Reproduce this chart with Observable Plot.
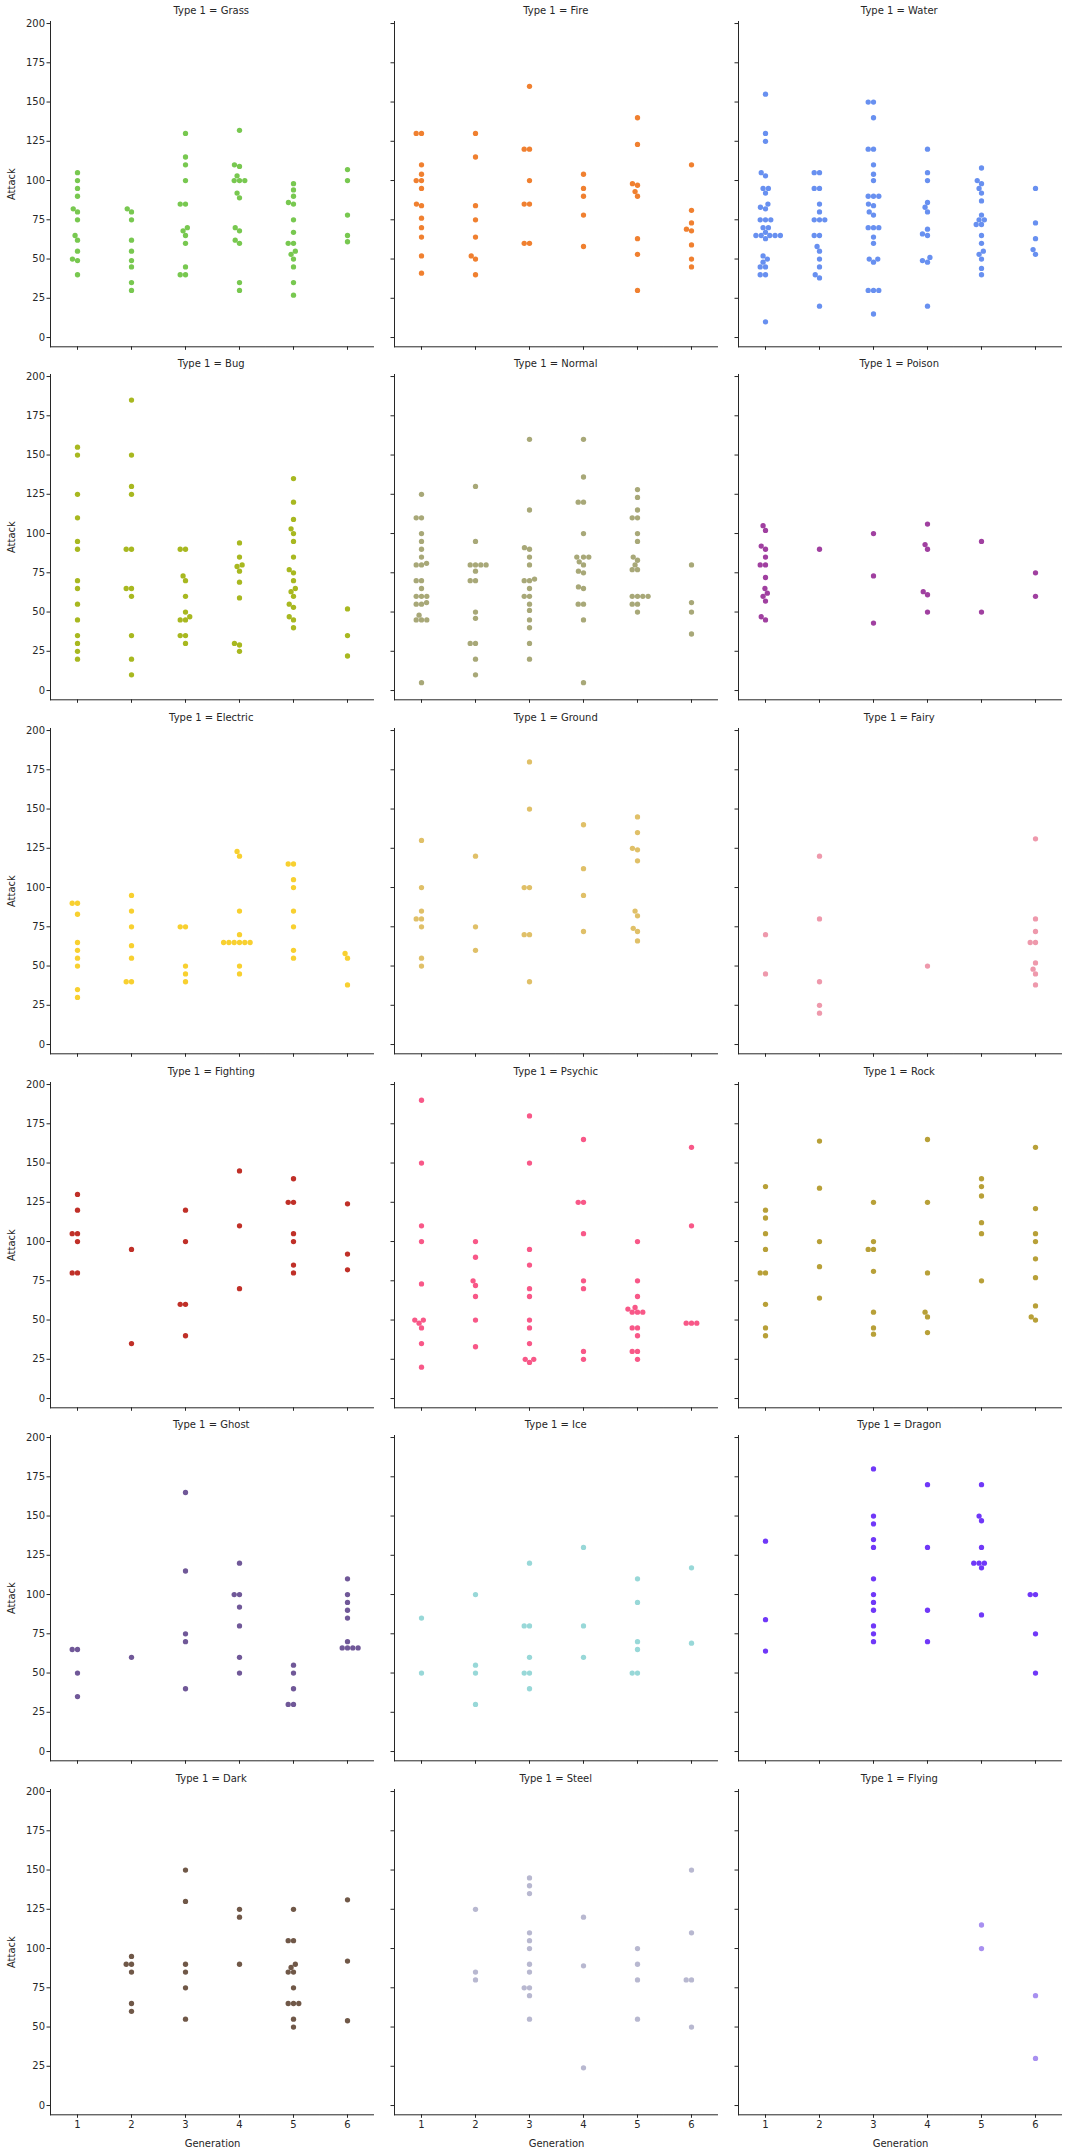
<!DOCTYPE html>
<html><head><meta charset="utf-8">
<script src="https://cdn.jsdelivr.net/npm/d3@7"></script>
<script src="https://cdn.jsdelivr.net/npm/@observablehq/plot@0.6"></script>
<style>
body{margin:0;background:#fff;}
#chart{position:relative;width:1072px;height:2152px;font-family:"DejaVu Sans",sans-serif;color:#262626;overflow:hidden;}
.panel{position:absolute;}
.title{position:absolute;font-size:10px;text-align:center;white-space:nowrap;line-height:10px;color:#262626;}
</style></head><body><div id="chart"></div>
<script>
const generations = [1, 2, 3, 4, 5, 6];
const types = ["Grass","Fire","Water","Bug","Normal","Poison","Electric","Ground","Fairy","Fighting","Psychic","Rock","Ghost","Ice","Dragon","Dark","Steel","Flying"];
const typeColors = ["#78C850","#F08030","#6890F0","#A8B820","#A8A878","#A040A0","#F8D030","#E0C068","#EE99AC","#C03028","#F85888","#B8A038","#705898","#98D8D8","#7038F8","#705848","#B8B8D0","#A890F0"];
const yTicks = [0, 25, 50, 75, 100, 125, 150, 175, 200];
const yDomain = [-5.9, 201.3];

// Attack values, one list per generation 1..6
const grass = [[105,100,95,90,82,80,75,65,62,55,50,49,40],[82,80,75,62,55,49,45,35,30],[130,115,110,100,85,85,70,68,65,60,45,40,40],[132,110,109,103,100,100,100,92,89,70,68,62,60,35,30],[98,94,90,86,85,75,67,60,60,55,53,50,45,35,27],[107,100,78,65,61]];
const fire = [[130,130,110,104,100,100,95,85,84,76,70,64,52,41],[130,115,84,75,64,52,50,40],[160,120,120,100,85,85,60,60],[104,95,90,78,58],[140,123,98,97,93,90,63,53,30],[110,81,73,69,68,59,50,45]];
const water = [[155,130,125,105,103,95,95,92,85,83,82,75,75,75,70,70,67,65,65,65,65,65,63,52,50,48,45,45,40,40,10],[105,105,95,95,85,80,75,75,75,65,65,58,55,50,45,40,38,20],[150,150,140,120,120,110,104,100,90,90,90,85,84,80,78,70,70,70,64,60,50,50,48,30,30,30,15],[120,105,100,86,83,80,69,66,65,51,49,48,20],[108,100,98,95,92,87,78,75,75,72,72,65,60,55,53,50,44,40],[95,73,63,56,53]];
const bug = [[155,150,125,110,95,90,70,65,55,45,35,30,25,20],[185,150,130,125,90,90,65,65,60,35,20,10],[90,90,73,70,60,50,47,45,45,35,35,30],[94,85,80,79,76,69,59,30,29,25],[135,120,109,103,100,95,85,77,75,70,65,63,60,55,53,47,45,40],[52,35,22]];
const normal = [[125,110,110,100,95,90,85,81,80,80,70,70,65,60,60,60,56,55,55,48,45,45,45,5],[130,95,80,80,80,80,76,70,70,50,46,30,30,20,10],[160,115,91,90,85,80,71,70,70,65,60,60,55,51,45,40,30,20],[160,136,120,120,100,85,85,85,82,80,76,75,66,65,55,55,45,5],[128,123,115,110,110,100,95,85,83,80,77,77,60,60,60,60,55,55,50],[80,56,50,36]];
const poison = [[105,102,92,90,85,80,80,72,65,62,60,57,47,45],[90],[100,73,43],[106,93,90,63,61,50],[95,50],[75,60]];
const electric = [[90,90,83,65,60,55,50,35,30],[95,85,75,63,55,40,40],[75,75,50,45,40],[123,120,85,70,65,65,65,65,65,65,50,45],[115,115,105,100,85,75,60,55],[58,55,38]];
const ground = [[130,100,85,80,80,75,55,50],[120,75,60],[180,150,100,100,70,70,40],[140,112,95,72],[145,135,125,124,117,85,82,74,72,66],[]];
const fairy = [[70,45],[120,80,40,25,20],[],[50],[],[131,80,72,65,65,52,48,45,38]];
const fighting = [[130,120,105,105,100,80,80],[95,35],[120,100,60,60,40],[145,110,70],[140,125,125,105,100,85,80],[124,92,82]];
const psychic = [[190,150,110,100,73,50,50,48,45,35,20],[100,90,75,72,65,50,33],[180,150,95,85,70,65,50,45,35,25,25,23],[165,125,125,105,75,70,30,25],[100,75,65,58,57,55,55,55,45,45,40,30,30,25],[160,110,48,48,48]];
const rock = [[135,120,115,105,95,80,80,60,45,40],[164,134,100,84,64],[125,100,95,95,81,55,45,41],[165,125,80,55,52,42],[140,135,129,112,105,75],[160,121,105,100,89,77,59,52,50]];
const ghost = [[65,65,50,35],[60],[165,115,75,70,40],[120,100,100,92,80,60,50],[55,50,40,30,30],[110,100,95,90,85,70,66,66,66,66]];
const ice = [[85,50],[100,55,50,30],[120,80,80,60,50,50,40],[130,80,60],[110,95,70,65,50,50],[117,69]];
const dragon = [[134,84,64],[],[180,150,145,135,130,110,100,95,90,80,75,70],[170,130,90,70],[170,150,147,130,120,120,120,117,87],[100,100,75,50]];
const dark = [[],[95,90,90,85,65,60],[150,130,90,85,75,55],[125,120,90],[125,105,105,90,88,85,85,75,65,65,65,55,50],[131,92,54]];
const steel = [[],[125,85,80],[145,140,135,110,105,100,90,85,75,75,70,55],[120,89,24],[100,90,80,55],[150,110,80,80,50]];
const flying = [[],[],[],[],[115,100],[70,30]];

const attackByType = [grass, fire, water, bug, normal, poison, electric, ground, fairy, fighting, psychic, rock, ghost, ice, dragon, dark, steel, flying];

// layout of the grid (pixels)
const colLeft = [47.5, 392, 735.5];
const frameW = 327.5, frameH = 325.3;
const rowTop0 = 20.7, rowPitch = 353.6;
const ML = 48, MR = 6, MT = 21;
const ink = "#262626";

const chart = document.getElementById("chart");

types.forEach((type, k) => {
  const col = k % 3, row = Math.floor(k / 3);
  const isLeft = col === 0, isBottom = row === 5;
  const MB = isBottom ? 42 : 6;
  const frameTop = rowTop0 + row * rowPitch;
  const points = [];
  attackByType[k].forEach((vals, gi) => {
    [...vals].sort((a, b) => a - b).forEach(v => points.push({gen: generations[gi], atk: v}));
  });
  const svg = Plot.plot({
    width: ML + frameW + MR,
    height: MT + frameH + MB,
    marginLeft: ML, marginRight: MR, marginTop: MT, marginBottom: MB,
    style: {background: "transparent", fontFamily: "DejaVu Sans, sans-serif", fontSize: "10px", color: ink, overflow: "visible"},
    fx: {
      domain: generations, padding: 0, axis: "bottom",
      tickSize: 3.5, tickPadding: 3,
      tickFormat: isBottom ? (d => String(d)) : (() => ""),
      label: isBottom ? "Generation" : null, labelAnchor: "center", labelOffset: 32
    },
    y: {
      domain: yDomain, ticks: yTicks, tickSize: 3.5, tickPadding: 2,
      tickFormat: isLeft ? (d => String(d)) : (() => ""),
      label: isLeft ? "Attack" : null, labelAnchor: "center", labelOffset: 43, labelArrow: false,
      line: true
    },
    marks: [
      Plot.ruleY(generations, {fx: d => d, y: () => yDomain[0], stroke: ink, strokeWidth: 1}),
      Plot.dot(points, Plot.dodgeX({anchor: "middle", padding: 0}, {fx: "gen", y: "atk", r: 2.65, fill: typeColors[k]}))
    ]
  });
  svg.classList.add("panel");
  svg.style.left = (colLeft[col] - ML) + "px";
  svg.style.top = (frameTop - MT) + "px";
  chart.appendChild(svg);

  const t = document.createElement("div");
  t.className = "title";
  t.textContent = "Type 1 = " + type;
  t.style.left = colLeft[col] + "px";
  t.style.width = frameW + "px";
  t.style.top = (frameTop - 15) + "px";
  chart.appendChild(t);
});
</script>
</body></html>
